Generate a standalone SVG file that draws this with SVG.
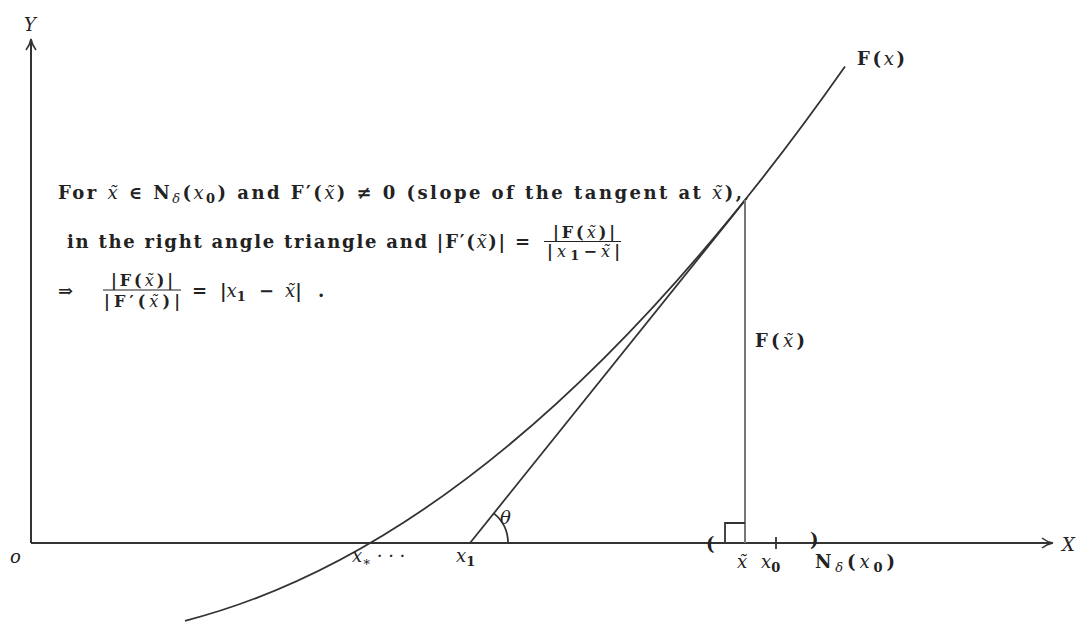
<svg xmlns="http://www.w3.org/2000/svg" width="1080" height="622" viewBox="0 0 1080 622">
<defs>
<marker id="arr" markerWidth="14" markerHeight="14" refX="11" refY="6" orient="auto" markerUnits="userSpaceOnUse">
<path d="M1,1 Q6,5 12,6 Q6,7 1,11" fill="none" stroke="#333" stroke-width="1.6"/>
</marker>
<style>
text{font-family:"DejaVu Serif","Liberation Serif",serif;fill:#222}
.b{font-weight:bold}
.i{font-style:italic;font-weight:normal}
.lab{font-size:18px}
.fr{font-size:16px}
.sm{font-size:13px}
.ax{stroke:#333;stroke-width:2;fill:none}
.ln{stroke:#333;stroke-width:1.8;fill:none}
</style>
</defs>
<rect width="1080" height="622" fill="#fff"/>
<g id="connectors">
<line class="ax" x1="31" y1="543" x2="31" y2="40" marker-end="url(#arr)"/>
<line class="ax" x1="31" y1="543" x2="1052" y2="543" marker-end="url(#arr)"/>
<path id="curve" class="ln" d="M185,620.8 Q515,536.3 845,66.4"/>
<line id="tangent" class="ln" x1="470" y1="543" x2="747" y2="198"/>
<line id="height" x1="745" y1="200" x2="745" y2="543" stroke="#777" stroke-width="2"/>
<path id="rightangle" class="ln" d="M725,543 V523 H745"/>
<line id="tick" class="ln" x1="776" y1="537" x2="776" y2="549"/>
<path id="theta-arc" class="ln" d="M493.8,513.4 A38,38 0 0 1 508,543"/>
</g>
<g id="axis-labels">
<text class="i lab" x="24" y="31">Y</text>
<text class="i lab" x="1062" y="551">X</text>
<text class="i lab" x="10" y="563">o</text>
</g>
<g id="curve-label"><text class="b lab" x="857" y="65" textLength="48" lengthAdjust="spacing">F(<tspan class="i">x</tspan>)</text></g>
<g id="height-label"><text class="b lab" x="755" y="347" textLength="50" lengthAdjust="spacing">F(<tspan class="i">x̃</tspan>)</text></g>
<g id="theta-label"><text class="i lab" x="500" y="524">θ</text></g>
<g id="x-labels">
<text class="i lab" x="352" y="562">x<tspan class="sm" dy="4">∗</tspan><tspan dy="-4"> · · ·</tspan></text>
<text class="i lab" x="456" y="562">x<tspan class="sm b" dy="4" font-style="normal">1</tspan></text>
<text class="b lab" x="706" y="550">(</text>
<text class="b lab" x="810" y="546">)</text>
<text class="i lab" x="737" y="568">x̃</text>
<text class="i lab" x="761" y="568">x<tspan class="sm b" dy="4" font-style="normal">0</tspan></text>
<text class="b lab" x="815" y="568" font-size="19" textLength="80" lengthAdjust="spacing">N<tspan class="sm i" dy="4">δ</tspan><tspan dy="-4">(</tspan><tspan class="i">x</tspan><tspan class="sm" dy="4">0</tspan><tspan dy="-4">)</tspan></text>
</g>
<g id="explanation">
<text class="b lab" x="58" y="199" textLength="684" lengthAdjust="spacing">For <tspan class="i">x̃</tspan> ∈ N<tspan class="sm i" dy="4">δ</tspan><tspan dy="-4">(</tspan><tspan class="i">x</tspan><tspan class="sm" dy="4">0</tspan><tspan dy="-4">) and F′(</tspan><tspan class="i">x̃</tspan>) ≠ 0  (slope of the tangent at <tspan class="i">x̃</tspan>),</text>
<text class="b lab" x="67" y="248" textLength="463" lengthAdjust="spacing">in the right angle triangle and |F′(<tspan class="i">x̃</tspan>)| =</text>
<text class="b fr" x="553" y="238" textLength="62" lengthAdjust="spacing">|F(<tspan class="i">x̃</tspan>)|</text>
<line x1="544" y1="241.5" x2="621" y2="241.5" stroke="#222" stroke-width="1.2"/>
<text class="b fr" x="547" y="257" textLength="73" lengthAdjust="spacing">|<tspan class="i">x</tspan><tspan class="sm" dy="3">1</tspan><tspan dy="-3">−</tspan><tspan class="i">x̃</tspan>|</text>
<text class="b lab" x="58" y="297">⇒</text>
<text class="b fr" x="111" y="286" textLength="62" lengthAdjust="spacing">|F(<tspan class="i">x̃</tspan>)|</text>
<line x1="103" y1="290" x2="181" y2="290" stroke="#222" stroke-width="1.2"/>
<text class="b fr" x="104" y="307" textLength="76" lengthAdjust="spacing">|F′(<tspan class="i">x̃</tspan>)|</text>
<text class="b lab" x="192" y="297">=</text>
<text class="b lab" x="220" y="297">|<tspan class="i">x</tspan><tspan class="sm" dy="4">1</tspan></text>
<text class="b lab" x="259" y="297">−</text>
<text class="b lab" x="285" y="297"><tspan class="i">x̃</tspan>|</text>
<text class="b lab" x="318" y="297">.</text>
</g>
</svg>
